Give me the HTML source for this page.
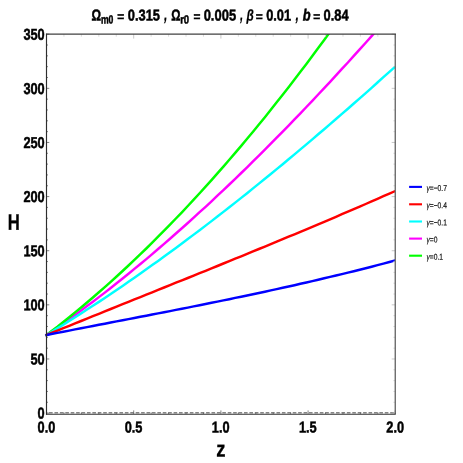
<!DOCTYPE html>
<html><head><meta charset="utf-8">
<style>
html,body{margin:0;padding:0;background:#fff;}
body{width:463px;height:463px;overflow:hidden;}
svg{display:block;will-change:transform;}
text{font-family:"Liberation Sans",sans-serif;font-kerning:none;}
text.t{fill:#000;stroke:#000;stroke-width:0.5px;}
text.l{fill:#1a1a1a;stroke:#1a1a1a;stroke-width:0.22px;}
</style></head>
<body>
<svg width="463" height="463" viewBox="0 0 463 463">
<rect x="0" y="0" width="463" height="463" fill="#ffffff"/>
<defs><clipPath id="cp"><rect x="44.5" y="34.1" width="350.8" height="379.9"/></clipPath></defs>
<g clip-path="url(#cp)">
<path d="M45.5,335.7 L51.4,331.6 L57.4,327.5 L63.3,323.4 L69.2,319.1 L75.1,314.9 L81.1,310.5 L87.0,306.1 L92.9,301.7 L98.9,297.1 L104.8,292.6 L110.7,288.0 L116.6,283.3 L122.6,278.5 L128.5,273.8 L134.4,268.9 L140.4,264.0 L146.3,259.1 L152.2,254.1 L158.1,249.0 L164.1,243.9 L170.0,238.8 L175.9,233.5 L181.9,228.3 L187.8,223.0 L193.7,217.6 L199.6,212.2 L205.6,206.8 L211.5,201.3 L217.4,195.7 L223.4,190.1 L229.3,184.5 L235.2,178.8 L241.2,173.0 L247.1,167.3 L253.0,161.4 L258.9,155.6 L264.9,149.7 L270.8,143.7 L276.7,137.7 L282.7,131.6 L288.6,125.6 L294.5,119.4 L300.4,113.3 L306.4,107.0 L312.3,100.8 L318.2,94.5 L324.2,88.2 L330.1,81.8 L336.0,75.4 L341.9,68.9 L347.9,62.5 L353.8,55.9 L359.7,49.4 L365.7,42.8 L371.6,36.1 L377.5,29.5 L383.4,22.8 L389.4,16.0 L395.3,9.2" fill="none" stroke="#ff00ff" stroke-width="2.45" stroke-linejoin="round"/>
<path d="M45.5,335.8 L51.4,331.2 L57.4,326.7 L63.3,322.0 L69.2,317.2 L75.1,312.4 L81.1,307.5 L87.0,302.5 L92.9,297.5 L98.9,292.3 L104.8,287.1 L110.7,281.8 L116.6,276.5 L122.6,271.0 L128.5,265.5 L134.4,259.9 L140.4,254.2 L146.3,248.5 L152.2,242.6 L158.1,236.7 L164.1,230.7 L170.0,224.7 L175.9,218.5 L181.9,212.3 L187.8,206.0 L193.7,199.7 L199.6,193.2 L205.6,186.7 L211.5,180.1 L217.4,173.4 L223.4,166.6 L229.3,159.8 L235.2,152.9 L241.2,145.9 L247.1,138.8 L253.0,131.7 L258.9,124.5 L264.9,117.2 L270.8,109.8 L276.7,102.3 L282.7,94.8 L288.6,87.2 L294.5,79.5 L300.4,71.8 L306.4,63.9 L312.3,56.0 L318.2,48.0 L324.2,40.0 L330.1,31.8 L336.0,23.6 L341.9,15.3 L347.9,7.0 L353.8,-1.5 L359.7,-10.0 L365.7,-18.6 L371.6,-27.3 L377.5,-36.0 L383.4,-44.8 L389.4,-53.7 L395.3,-62.7" fill="none" stroke="#00ff00" stroke-width="2.45" stroke-linejoin="round"/>
<path d="M45.5,335.6 L51.4,332.0 L57.4,328.4 L63.3,324.7 L69.2,321.0 L75.1,317.2 L81.1,313.5 L87.0,309.6 L92.9,305.8 L98.9,301.9 L104.8,297.9 L110.7,294.0 L116.6,289.9 L122.6,285.9 L128.5,281.8 L134.4,277.7 L140.4,273.5 L146.3,269.3 L152.2,265.1 L158.1,260.9 L164.1,256.6 L170.0,252.3 L175.9,247.9 L181.9,243.5 L187.8,239.1 L193.7,234.6 L199.6,230.2 L205.6,225.6 L211.5,221.1 L217.4,216.5 L223.4,211.9 L229.3,207.3 L235.2,202.6 L241.2,197.9 L247.1,193.2 L253.0,188.4 L258.9,183.6 L264.9,178.8 L270.8,174.0 L276.7,169.1 L282.7,164.2 L288.6,159.3 L294.5,154.4 L300.4,149.4 L306.4,144.4 L312.3,139.4 L318.2,134.3 L324.2,129.2 L330.1,124.1 L336.0,119.0 L341.9,113.9 L347.9,108.7 L353.8,103.5 L359.7,98.3 L365.7,93.1 L371.6,87.8 L377.5,82.5 L383.4,77.2 L389.4,71.9 L395.3,66.6" fill="none" stroke="#00ffff" stroke-width="2.45" stroke-linejoin="round"/>
<path d="M45.5,335.4 L51.4,333.0 L57.4,330.6 L63.3,328.2 L69.2,325.8 L75.1,323.4 L81.1,321.0 L87.0,318.6 L92.9,316.2 L98.9,313.8 L104.8,311.4 L110.7,309.0 L116.6,306.6 L122.6,304.2 L128.5,301.8 L134.4,299.4 L140.4,297.1 L146.3,294.7 L152.2,292.3 L158.1,289.9 L164.1,287.5 L170.0,285.1 L175.9,282.7 L181.9,280.4 L187.8,278.0 L193.7,275.6 L199.6,273.2 L205.6,270.8 L211.5,268.4 L217.4,266.0 L223.4,263.5 L229.3,261.1 L235.2,258.7 L241.2,256.3 L247.1,253.9 L253.0,251.4 L258.9,249.0 L264.9,246.6 L270.8,244.1 L276.7,241.7 L282.7,239.2 L288.6,236.7 L294.5,234.3 L300.4,231.8 L306.4,229.3 L312.3,226.8 L318.2,224.3 L324.2,221.8 L330.1,219.3 L336.0,216.8 L341.9,214.2 L347.9,211.7 L353.8,209.1 L359.7,206.6 L365.7,204.0 L371.6,201.4 L377.5,198.8 L383.4,196.2 L389.4,193.6 L395.3,191.0" fill="none" stroke="#ff0000" stroke-width="2.45" stroke-linejoin="round"/>
<path d="M45.5,335.2 L51.4,334.0 L57.4,332.9 L63.3,331.7 L69.2,330.6 L75.1,329.4 L81.1,328.3 L87.0,327.1 L92.9,326.0 L98.9,324.8 L104.8,323.7 L110.7,322.5 L116.6,321.4 L122.6,320.3 L128.5,319.1 L134.4,318.0 L140.4,316.8 L146.3,315.7 L152.2,314.5 L158.1,313.4 L164.1,312.2 L170.0,311.1 L175.9,309.9 L181.9,308.7 L187.8,307.6 L193.7,306.4 L199.6,305.2 L205.6,304.0 L211.5,302.8 L217.4,301.6 L223.4,300.4 L229.3,299.2 L235.2,297.9 L241.2,296.7 L247.1,295.5 L253.0,294.2 L258.9,293.0 L264.9,291.7 L270.8,290.4 L276.7,289.1 L282.7,287.8 L288.6,286.5 L294.5,285.2 L300.4,283.8 L306.4,282.5 L312.3,281.1 L318.2,279.7 L324.2,278.3 L330.1,276.9 L336.0,275.5 L341.9,274.1 L347.9,272.6 L353.8,271.2 L359.7,269.7 L365.7,268.2 L371.6,266.7 L377.5,265.1 L383.4,263.6 L389.4,262.0 L395.3,260.4" fill="none" stroke="#0000ff" stroke-width="2.45" stroke-linejoin="round"/>
</g>
<line x1="46.5" x2="395.3" y1="412.75" y2="412.75" stroke="#858585" stroke-width="1.3" stroke-dasharray="3.6 1.815" stroke-dashoffset="2.865"/>
<g stroke="#666" stroke-width="0.8">
<line x1="46.5" x2="49.3" y1="413.10" y2="413.10"/>
<line x1="395.3" x2="391.70" y1="413.10" y2="413.10" stroke="#bbb" stroke-width="0.8"/>
<line x1="46.5" x2="48.0" y1="402.27" y2="402.27"/>
<line x1="395.3" x2="393.40" y1="402.27" y2="402.27" stroke="#d0d0d0" stroke-width="0.8"/>
<line x1="46.5" x2="48.0" y1="391.45" y2="391.45"/>
<line x1="395.3" x2="393.40" y1="391.45" y2="391.45" stroke="#d0d0d0" stroke-width="0.8"/>
<line x1="46.5" x2="48.0" y1="380.62" y2="380.62"/>
<line x1="395.3" x2="393.40" y1="380.62" y2="380.62" stroke="#d0d0d0" stroke-width="0.8"/>
<line x1="46.5" x2="48.0" y1="369.80" y2="369.80"/>
<line x1="395.3" x2="393.40" y1="369.80" y2="369.80" stroke="#d0d0d0" stroke-width="0.8"/>
<line x1="46.5" x2="49.3" y1="358.97" y2="358.97"/>
<line x1="395.3" x2="391.70" y1="358.97" y2="358.97" stroke="#bbb" stroke-width="0.8"/>
<line x1="46.5" x2="48.0" y1="348.15" y2="348.15"/>
<line x1="395.3" x2="393.40" y1="348.15" y2="348.15" stroke="#d0d0d0" stroke-width="0.8"/>
<line x1="46.5" x2="48.0" y1="337.32" y2="337.32"/>
<line x1="395.3" x2="393.40" y1="337.32" y2="337.32" stroke="#d0d0d0" stroke-width="0.8"/>
<line x1="46.5" x2="48.0" y1="326.49" y2="326.49"/>
<line x1="395.3" x2="393.40" y1="326.49" y2="326.49" stroke="#d0d0d0" stroke-width="0.8"/>
<line x1="46.5" x2="48.0" y1="315.67" y2="315.67"/>
<line x1="395.3" x2="393.40" y1="315.67" y2="315.67" stroke="#d0d0d0" stroke-width="0.8"/>
<line x1="46.5" x2="49.3" y1="304.84" y2="304.84"/>
<line x1="395.3" x2="391.70" y1="304.84" y2="304.84" stroke="#bbb" stroke-width="0.8"/>
<line x1="46.5" x2="48.0" y1="294.02" y2="294.02"/>
<line x1="395.3" x2="393.40" y1="294.02" y2="294.02" stroke="#d0d0d0" stroke-width="0.8"/>
<line x1="46.5" x2="48.0" y1="283.19" y2="283.19"/>
<line x1="395.3" x2="393.40" y1="283.19" y2="283.19" stroke="#d0d0d0" stroke-width="0.8"/>
<line x1="46.5" x2="48.0" y1="272.37" y2="272.37"/>
<line x1="395.3" x2="393.40" y1="272.37" y2="272.37" stroke="#d0d0d0" stroke-width="0.8"/>
<line x1="46.5" x2="48.0" y1="261.54" y2="261.54"/>
<line x1="395.3" x2="393.40" y1="261.54" y2="261.54" stroke="#d0d0d0" stroke-width="0.8"/>
<line x1="46.5" x2="49.3" y1="250.71" y2="250.71"/>
<line x1="395.3" x2="391.70" y1="250.71" y2="250.71" stroke="#bbb" stroke-width="0.8"/>
<line x1="46.5" x2="48.0" y1="239.89" y2="239.89"/>
<line x1="395.3" x2="393.40" y1="239.89" y2="239.89" stroke="#d0d0d0" stroke-width="0.8"/>
<line x1="46.5" x2="48.0" y1="229.06" y2="229.06"/>
<line x1="395.3" x2="393.40" y1="229.06" y2="229.06" stroke="#d0d0d0" stroke-width="0.8"/>
<line x1="46.5" x2="48.0" y1="218.24" y2="218.24"/>
<line x1="395.3" x2="393.40" y1="218.24" y2="218.24" stroke="#d0d0d0" stroke-width="0.8"/>
<line x1="46.5" x2="48.0" y1="207.41" y2="207.41"/>
<line x1="395.3" x2="393.40" y1="207.41" y2="207.41" stroke="#d0d0d0" stroke-width="0.8"/>
<line x1="46.5" x2="49.3" y1="196.59" y2="196.59"/>
<line x1="395.3" x2="391.70" y1="196.59" y2="196.59" stroke="#bbb" stroke-width="0.8"/>
<line x1="46.5" x2="48.0" y1="185.76" y2="185.76"/>
<line x1="395.3" x2="393.40" y1="185.76" y2="185.76" stroke="#d0d0d0" stroke-width="0.8"/>
<line x1="46.5" x2="48.0" y1="174.93" y2="174.93"/>
<line x1="395.3" x2="393.40" y1="174.93" y2="174.93" stroke="#d0d0d0" stroke-width="0.8"/>
<line x1="46.5" x2="48.0" y1="164.11" y2="164.11"/>
<line x1="395.3" x2="393.40" y1="164.11" y2="164.11" stroke="#d0d0d0" stroke-width="0.8"/>
<line x1="46.5" x2="48.0" y1="153.28" y2="153.28"/>
<line x1="395.3" x2="393.40" y1="153.28" y2="153.28" stroke="#d0d0d0" stroke-width="0.8"/>
<line x1="46.5" x2="49.3" y1="142.46" y2="142.46"/>
<line x1="395.3" x2="391.70" y1="142.46" y2="142.46" stroke="#bbb" stroke-width="0.8"/>
<line x1="46.5" x2="48.0" y1="131.63" y2="131.63"/>
<line x1="395.3" x2="393.40" y1="131.63" y2="131.63" stroke="#d0d0d0" stroke-width="0.8"/>
<line x1="46.5" x2="48.0" y1="120.81" y2="120.81"/>
<line x1="395.3" x2="393.40" y1="120.81" y2="120.81" stroke="#d0d0d0" stroke-width="0.8"/>
<line x1="46.5" x2="48.0" y1="109.98" y2="109.98"/>
<line x1="395.3" x2="393.40" y1="109.98" y2="109.98" stroke="#d0d0d0" stroke-width="0.8"/>
<line x1="46.5" x2="48.0" y1="99.15" y2="99.15"/>
<line x1="395.3" x2="393.40" y1="99.15" y2="99.15" stroke="#d0d0d0" stroke-width="0.8"/>
<line x1="46.5" x2="49.3" y1="88.33" y2="88.33"/>
<line x1="395.3" x2="391.70" y1="88.33" y2="88.33" stroke="#bbb" stroke-width="0.8"/>
<line x1="46.5" x2="48.0" y1="77.50" y2="77.50"/>
<line x1="395.3" x2="393.40" y1="77.50" y2="77.50" stroke="#d0d0d0" stroke-width="0.8"/>
<line x1="46.5" x2="48.0" y1="66.68" y2="66.68"/>
<line x1="395.3" x2="393.40" y1="66.68" y2="66.68" stroke="#d0d0d0" stroke-width="0.8"/>
<line x1="46.5" x2="48.0" y1="55.85" y2="55.85"/>
<line x1="395.3" x2="393.40" y1="55.85" y2="55.85" stroke="#d0d0d0" stroke-width="0.8"/>
<line x1="46.5" x2="48.0" y1="45.03" y2="45.03"/>
<line x1="395.3" x2="393.40" y1="45.03" y2="45.03" stroke="#d0d0d0" stroke-width="0.8"/>
<line x1="46.5" x2="49.3" y1="34.20" y2="34.20"/>
<line x1="395.3" x2="391.70" y1="34.20" y2="34.20" stroke="#bbb" stroke-width="0.8"/>
<line y1="414.0" y2="410.4" x1="46.50" x2="46.50"/>
<line y1="34.1" y2="38.60" x1="46.50" x2="46.50" stroke="#bbb" stroke-width="0.8"/>
<line y1="414.0" y2="412.4" x1="63.94" x2="63.94"/>
<line y1="34.1" y2="36.70" x1="63.94" x2="63.94" stroke="#d0d0d0" stroke-width="0.8"/>
<line y1="414.0" y2="412.4" x1="81.38" x2="81.38"/>
<line y1="34.1" y2="36.70" x1="81.38" x2="81.38" stroke="#d0d0d0" stroke-width="0.8"/>
<line y1="414.0" y2="412.4" x1="98.82" x2="98.82"/>
<line y1="34.1" y2="36.70" x1="98.82" x2="98.82" stroke="#d0d0d0" stroke-width="0.8"/>
<line y1="414.0" y2="412.4" x1="116.26" x2="116.26"/>
<line y1="34.1" y2="36.70" x1="116.26" x2="116.26" stroke="#d0d0d0" stroke-width="0.8"/>
<line y1="414.0" y2="410.4" x1="133.70" x2="133.70"/>
<line y1="34.1" y2="38.60" x1="133.70" x2="133.70" stroke="#bbb" stroke-width="0.8"/>
<line y1="414.0" y2="412.4" x1="151.14" x2="151.14"/>
<line y1="34.1" y2="36.70" x1="151.14" x2="151.14" stroke="#d0d0d0" stroke-width="0.8"/>
<line y1="414.0" y2="412.4" x1="168.58" x2="168.58"/>
<line y1="34.1" y2="36.70" x1="168.58" x2="168.58" stroke="#d0d0d0" stroke-width="0.8"/>
<line y1="414.0" y2="412.4" x1="186.02" x2="186.02"/>
<line y1="34.1" y2="36.70" x1="186.02" x2="186.02" stroke="#d0d0d0" stroke-width="0.8"/>
<line y1="414.0" y2="412.4" x1="203.46" x2="203.46"/>
<line y1="34.1" y2="36.70" x1="203.46" x2="203.46" stroke="#d0d0d0" stroke-width="0.8"/>
<line y1="414.0" y2="410.4" x1="220.90" x2="220.90"/>
<line y1="34.1" y2="38.60" x1="220.90" x2="220.90" stroke="#bbb" stroke-width="0.8"/>
<line y1="414.0" y2="412.4" x1="238.34" x2="238.34"/>
<line y1="34.1" y2="36.70" x1="238.34" x2="238.34" stroke="#d0d0d0" stroke-width="0.8"/>
<line y1="414.0" y2="412.4" x1="255.78" x2="255.78"/>
<line y1="34.1" y2="36.70" x1="255.78" x2="255.78" stroke="#d0d0d0" stroke-width="0.8"/>
<line y1="414.0" y2="412.4" x1="273.22" x2="273.22"/>
<line y1="34.1" y2="36.70" x1="273.22" x2="273.22" stroke="#d0d0d0" stroke-width="0.8"/>
<line y1="414.0" y2="412.4" x1="290.66" x2="290.66"/>
<line y1="34.1" y2="36.70" x1="290.66" x2="290.66" stroke="#d0d0d0" stroke-width="0.8"/>
<line y1="414.0" y2="410.4" x1="308.10" x2="308.10"/>
<line y1="34.1" y2="38.60" x1="308.10" x2="308.10" stroke="#bbb" stroke-width="0.8"/>
<line y1="414.0" y2="412.4" x1="325.54" x2="325.54"/>
<line y1="34.1" y2="36.70" x1="325.54" x2="325.54" stroke="#d0d0d0" stroke-width="0.8"/>
<line y1="414.0" y2="412.4" x1="342.98" x2="342.98"/>
<line y1="34.1" y2="36.70" x1="342.98" x2="342.98" stroke="#d0d0d0" stroke-width="0.8"/>
<line y1="414.0" y2="412.4" x1="360.42" x2="360.42"/>
<line y1="34.1" y2="36.70" x1="360.42" x2="360.42" stroke="#d0d0d0" stroke-width="0.8"/>
<line y1="414.0" y2="412.4" x1="377.86" x2="377.86"/>
<line y1="34.1" y2="36.70" x1="377.86" x2="377.86" stroke="#d0d0d0" stroke-width="0.8"/>
<line y1="414.0" y2="410.4" x1="395.30" x2="395.30"/>
<line y1="34.1" y2="38.60" x1="395.30" x2="395.30" stroke="#bbb" stroke-width="0.8"/>
</g>
<path d="M395.25,34.1 V414.0" fill="none" stroke="#606060" stroke-width="1.3"/>
<path d="M46.5,34.1 H396.0" fill="none" stroke="#404040" stroke-width="1.4"/>
<path d="M46.5,33.4 V414.8" fill="none" stroke="#2e2e2e" stroke-width="1.15"/>
<path d="M46.0,414.25 H395.8" fill="none" stroke="#303030" stroke-width="1.15"/>
<g id="ylab">
<text class="t" style="font-weight:bold;font-size:15.8px;" transform="translate(23.41,39.80) scale(0.8086,1.0000) rotate(0.05)">350</text>
<text class="t" style="font-weight:bold;font-size:15.8px;" transform="translate(23.41,93.90) scale(0.8086,1.0000) rotate(0.05)">300</text>
<text class="t" style="font-weight:bold;font-size:15.8px;" transform="translate(23.41,148.00) scale(0.8086,1.0000) rotate(0.05)">250</text>
<text class="t" style="font-weight:bold;font-size:15.8px;" transform="translate(23.41,202.10) scale(0.8086,1.0000) rotate(0.05)">200</text>
<text class="t" style="font-weight:bold;font-size:15.8px;" transform="translate(23.41,256.20) scale(0.8086,1.0000) rotate(0.05)">150</text>
<text class="t" style="font-weight:bold;font-size:15.8px;" transform="translate(23.41,310.30) scale(0.8086,1.0000) rotate(0.05)">100</text>
<text class="t" style="font-weight:bold;font-size:15.8px;" transform="translate(30.51,364.40) scale(0.8086,1.0000) rotate(0.05)">50</text>
<text class="t" style="font-weight:bold;font-size:15.8px;" transform="translate(37.62,418.50) scale(0.8086,1.0000) rotate(0.05)">0</text>
</g>
<g id="xlab">
<text class="t" style="font-weight:bold;font-size:15.8px;" transform="translate(37.53,432.55) scale(0.8086,1.0000) rotate(0.05)">0.0</text>
<text class="t" style="font-weight:bold;font-size:15.8px;" transform="translate(124.64,432.55) scale(0.8086,1.0000) rotate(0.05)">0.5</text>
<text class="t" style="font-weight:bold;font-size:15.8px;" transform="translate(211.78,432.55) scale(0.8086,1.0000) rotate(0.05)">1.0</text>
<text class="t" style="font-weight:bold;font-size:15.8px;" transform="translate(298.89,432.55) scale(0.8086,1.0000) rotate(0.05)">1.5</text>
<text class="t" style="font-weight:bold;font-size:15.8px;" transform="translate(386.36,432.55) scale(0.8086,1.0000) rotate(0.05)">2.0</text>
</g>
<g id="title">
<text class="t" style="font-weight:bold;font-size:15.7px;" transform="translate(91.47,20.55) scale(0.7601,1.0000) rotate(0.05)">Ω</text>
<text class="t" style="font-weight:bold;font-size:11.9px;" transform="translate(100.88,23.50) scale(0.7252,1.0000) rotate(0.05)">m0</text>
<text class="t" style="font-weight:bold;font-size:15.7px;" transform="translate(117.15,20.77) scale(0.7621,0.7921) rotate(0.05)">=</text>
<text class="t" style="font-weight:bold;font-size:15.7px;" transform="translate(127.74,20.55) scale(0.8213,1.0000) rotate(0.05)">0.315</text>
<text class="t" style="font-weight:bold;font-style:italic;font-size:15.7px;stroke-width:0.15px;" transform="translate(163.97,20.55) scale(0.7877,1.1325) rotate(0.05)">,</text>
<text class="t" style="font-weight:bold;font-size:15.7px;" transform="translate(171.28,20.55) scale(0.7335,1.0000) rotate(0.05)">Ω</text>
<text class="t" style="font-weight:bold;font-size:11.9px;" transform="translate(180.17,23.50) scale(0.7969,1.0000) rotate(0.05)">r0</text>
<text class="t" style="font-weight:bold;font-size:15.7px;" transform="translate(193.56,20.77) scale(0.7557,0.7921) rotate(0.05)">=</text>
<text class="t" style="font-weight:bold;font-size:15.7px;" transform="translate(203.64,20.55) scale(0.8266,1.0000) rotate(0.05)">0.005</text>
<text class="t" style="font-weight:bold;font-style:italic;font-size:15.7px;stroke-width:0.15px;" transform="translate(240.06,20.55) scale(0.7247,1.1325) rotate(0.05)">,</text>
<text class="t" style="font-weight:bold;font-style:italic;font-size:15.7px;stroke-width:0.25px;" transform="translate(246.50,20.57) scale(0.7427,0.9908) rotate(0.05)">β</text>
<text class="t" style="font-weight:bold;font-size:15.7px;" transform="translate(255.75,20.77) scale(0.7621,0.7921) rotate(0.05)">=</text>
<text class="t" style="font-weight:bold;font-size:15.7px;" transform="translate(266.14,20.55) scale(0.8170,1.0000) rotate(0.05)">0.01</text>
<text class="t" style="font-weight:bold;font-style:italic;font-size:15.7px;stroke-width:0.15px;" transform="translate(295.47,20.55) scale(0.7877,1.1325) rotate(0.05)">,</text>
<text class="t" style="font-weight:bold;font-style:italic;font-size:15.7px;" transform="translate(302.83,20.44) scale(0.8174,1.0321) rotate(0.05)">b</text>
<text class="t" style="font-weight:bold;font-size:15.7px;" transform="translate(313.15,20.77) scale(0.7621,0.7921) rotate(0.05)">=</text>
<text class="t" style="font-weight:bold;font-size:15.7px;" transform="translate(323.54,20.55) scale(0.8207,1.0000) rotate(0.05)">0.84</text>
</g>
<g id="axl">
<text class="t" style="font-weight:bold;font-size:22.2px;stroke-width:0.3px;" transform="translate(7.83,229.70) scale(0.7509,1.0000) rotate(0.05)">H</text>
<text class="t" style="font-weight:bold;font-size:22.2px;stroke-width:0.3px;" transform="translate(216.21,456.50) scale(0.8343,1.0000) rotate(0.05)">z</text>
</g>
<g id="legend">
<line x1="409.1" x2="422.0" y1="186.9" y2="186.9" stroke="#0000ff" stroke-width="2.1"/>
<text class="l" style="font-size:8.6px" transform="translate(426.39,190.90) scale(0.7818,1) rotate(0.05)"><tspan style="font-style:italic">γ</tspan>=−0.7</text>
<line x1="409.1" x2="422.0" y1="204.3" y2="204.3" stroke="#ff0000" stroke-width="2.1"/>
<text class="l" style="font-size:8.6px" transform="translate(426.39,208.30) scale(0.7818,1) rotate(0.05)"><tspan style="font-style:italic">γ</tspan>=−0.4</text>
<line x1="409.1" x2="422.0" y1="221.5" y2="221.5" stroke="#00ffff" stroke-width="2.1"/>
<text class="l" style="font-size:8.6px" transform="translate(426.39,225.50) scale(0.7818,1) rotate(0.05)"><tspan style="font-style:italic">γ</tspan>=−0.1</text>
<line x1="409.1" x2="422.0" y1="238.6" y2="238.6" stroke="#ff00ff" stroke-width="2.1"/>
<text class="l" style="font-size:8.6px" transform="translate(426.39,242.60) scale(0.7818,1) rotate(0.05)"><tspan style="font-style:italic">γ</tspan>=0</text>
<line x1="409.1" x2="422.0" y1="255.7" y2="255.7" stroke="#00ff00" stroke-width="2.1"/>
<text class="l" style="font-size:8.6px" transform="translate(426.39,259.70) scale(0.7818,1) rotate(0.05)"><tspan style="font-style:italic">γ</tspan>=0.1</text>
</g>
</svg>
</body></html>
